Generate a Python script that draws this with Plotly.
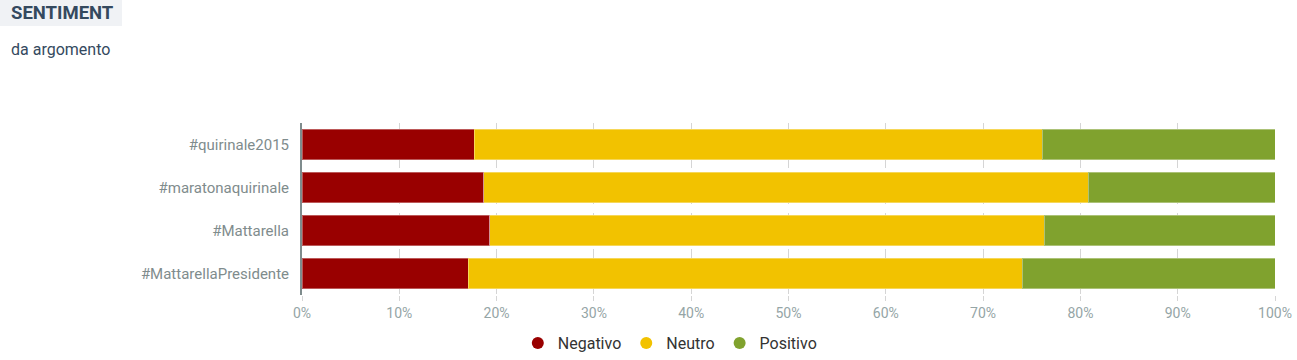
import plotly.graph_objects as go

categories = ["#quirinale2015", "#maratonaquirinale", "#Mattarella", "#MattarellaPresidente"]
negativo = [17.7, 18.7, 19.3, 17.1]
neutro = [58.4, 62.1, 57.0, 56.9]
positivo = [23.9, 19.2, 23.7, 26.0]
series_names = ["Negativo", "Neutro", "Positivo"]
colors = ["#990000", "#F2C200", "#80A22E"]
tick_vals = [0, 10, 20, 30, 40, 50, 60, 70, 80, 90, 100]
tick_text = [f"{v}%" for v in tick_vals]

fig = go.Figure()
for name, vals, col in zip(series_names, [negativo, neutro, positivo], colors):
    fig.add_trace(go.Bar(
        y=categories, x=vals, name=name, orientation="h",
        marker=dict(color=col, line=dict(color="rgba(255,255,255,0.35)", width=1)),
        showlegend=False, hovertemplate="%{y}: %{x:.1f}%<extra>" + name + "</extra>",
    ))
    fig.add_trace(go.Scatter(
        x=[None], y=[None], mode="markers", name=name,
        marker=dict(color=col, size=13, symbol="circle"), showlegend=True,
    ))

W, H = 1297, 360
L, R, T, B = 302, 22, 123, 65
pw, ph = W - L - R, H - T - B
def px(x):
    return (x - L) / pw
def py(y):
    return (H - B - y) / ph

fig.update_layout(
    width=W, height=H,
    margin=dict(l=L, r=R, t=T, b=B, autoexpand=False),
    barmode="stack", bargap=0.3,
    plot_bgcolor="white", paper_bgcolor="white",
    font=dict(family="Roboto", color="#7f8c8d"),
    xaxis=dict(range=[0, 100], tickvals=tick_vals, ticktext=tick_text,
               showgrid=True, gridcolor="#d5d5d5", griddash="dash", gridwidth=1,
               ticks="outside", ticklen=5, tickcolor="#d5d5d5",
               tickfont=dict(size=14, color="#95a5a6"), zeroline=False, fixedrange=True,
               automargin=False),
    yaxis=dict(autorange="reversed", showline=True, linecolor="#7f8c8d", linewidth=2,
               tickfont=dict(size=15, color="#7f8c8d"), ticks="", ticklabelstandoff=8,
               fixedrange=True, automargin=False),
    legend=dict(orientation="h", x=0.378, xanchor="center", y=py(343), yanchor="middle",
                font=dict(size=16, color="#333333"), itemsizing="constant",
                traceorder="normal"),
    shapes=[dict(type="rect", xref="paper", yref="paper",
                 x0=px(0), x1=px(122), y0=py(26), y1=py(0),
                 fillcolor="#f0f2f5", line=dict(width=0), layer="below")],
    annotations=[
        dict(text="<b>SENTIMENT</b>", xref="paper", yref="paper", x=px(9), y=py(13),
             xanchor="left", yanchor="middle", showarrow=False,
             font=dict(size=18.5, color="#34495e", family="Roboto")),
        dict(text="da argomento", xref="paper", yref="paper", x=px(9), y=py(50),
             xanchor="left", yanchor="middle", showarrow=False,
             font=dict(size=16, color="#34495e", family="Roboto")),
    ],
)

post = (
    "document.documentElement.style.margin='0';"
    "document.documentElement.style.overflow='hidden';"
    "document.body.style.margin='0';"
    "document.body.style.overflow='hidden';"
)

fig.write_html("out.html", config={"displayModeBar": False}, post_script=post)
